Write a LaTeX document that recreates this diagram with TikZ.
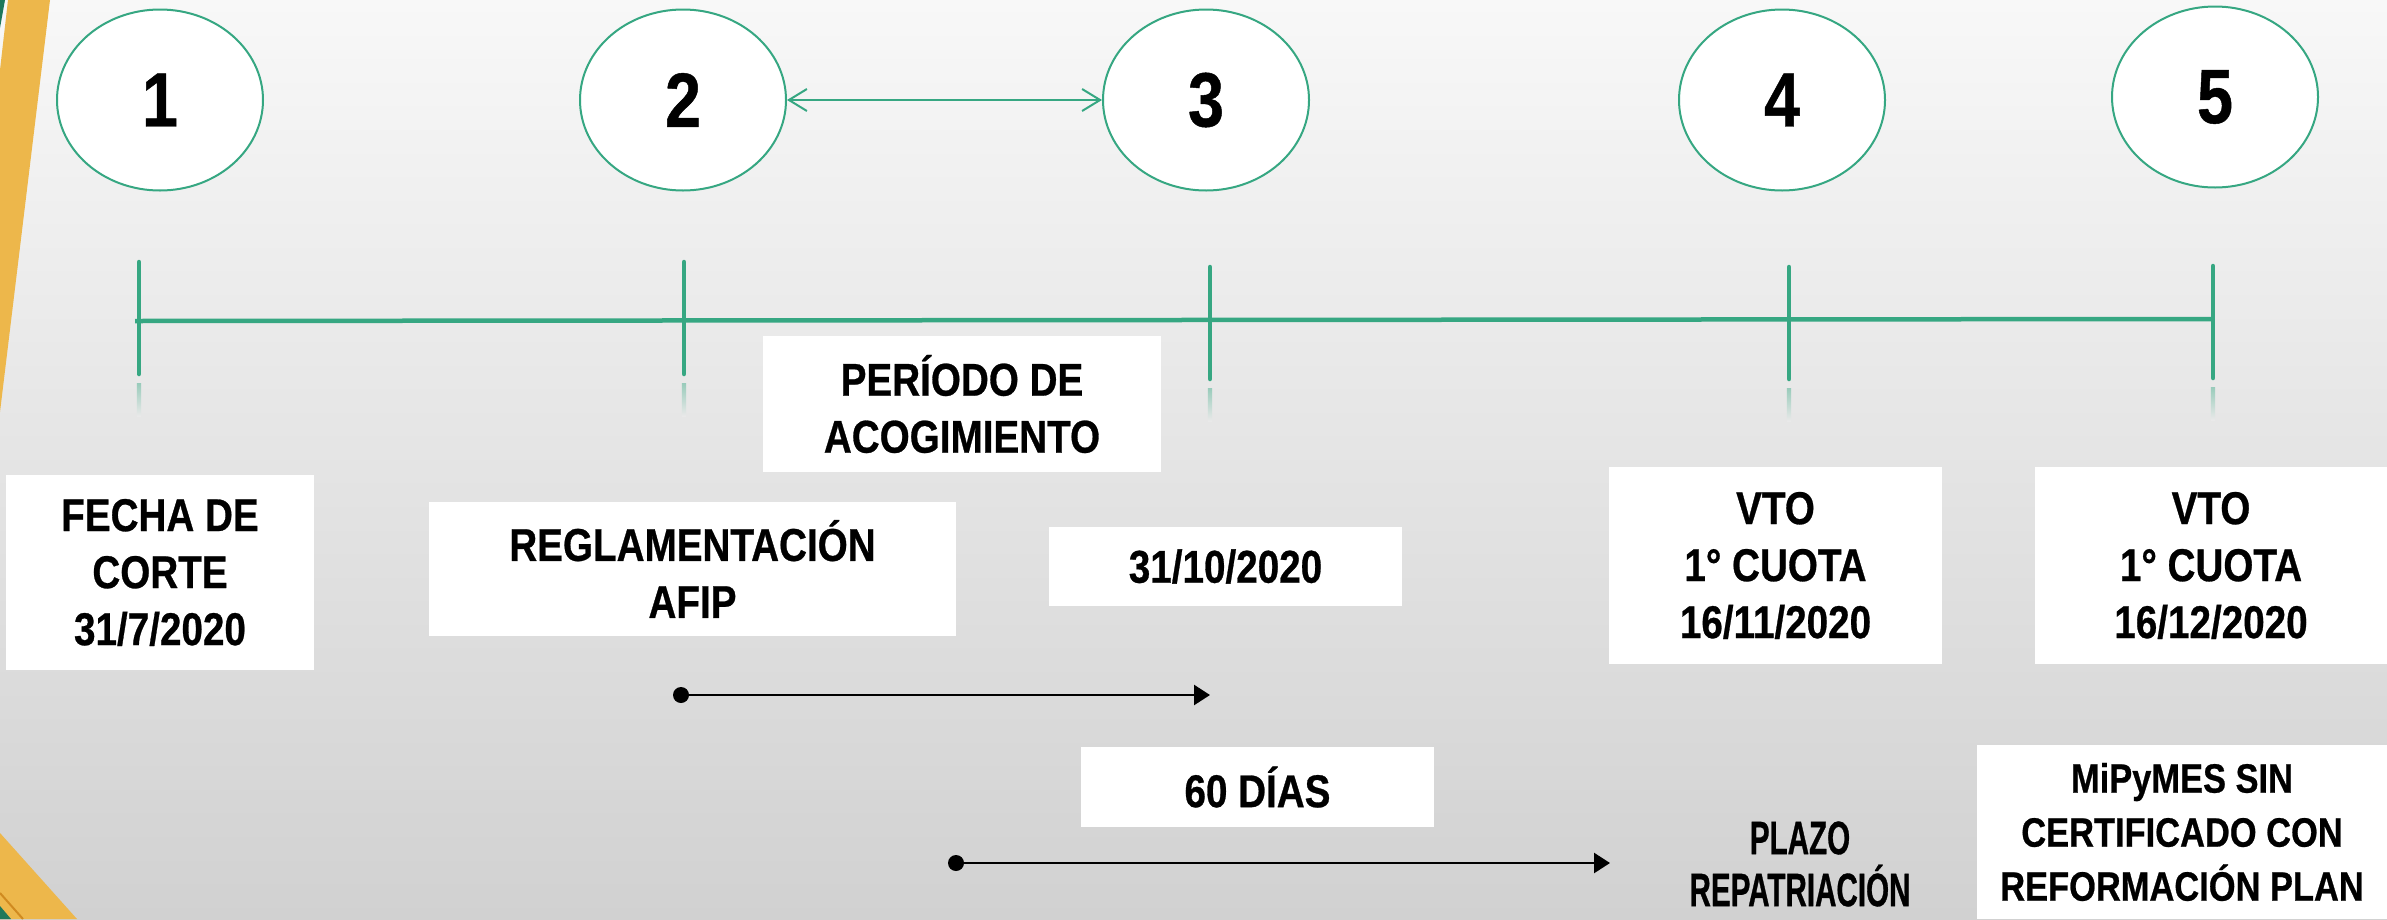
\documentclass[tikz,border=0pt]{standalone}
\usepackage{fontspec}
\setmainfont[FakeStretch=0.84,BoldFeatures={FakeBold=0.6}]{Liberation Sans}
\newfontfamily\narrowfont[FakeStretch=0.63,BoldFeatures={FakeBold=0.6}]{Liberation Sans}
\usetikzlibrary{shapes.geometric,arrows.meta}
\definecolor{bgTop}{RGB}{248,248,248}
\definecolor{bgBot}{RGB}{209,209,209}
\definecolor{bgMid}{RGB}{233,233,233}
\definecolor{tgreen}{RGB}{54,167,130}
\definecolor{gold}{RGB}{237,183,75}
\definecolor{dorange}{RGB}{208,138,32}
\definecolor{dgreen}{RGB}{30,120,90}
\tikzset{
  ell/.style={ellipse,draw=tgreen,line width=2pt,fill=white,minimum width=206pt,minimum height=181pt,inner sep=0pt,font=\fontsize{77}{80}\selectfont\bfseries},
  tickline/.style={tgreen,line width=4.5pt,line cap=round},
  tl/.style={tgreen,line width=4.5pt},
  wbox/.style={fill=white,inner sep=0pt,align=center,font=\fontsize{46}{57}\selectfont\bfseries},
  sbox/.style={fill=white,inner sep=0pt,align=center,font=\fontsize{41}{54}\selectfont\bfseries},
  pbox/.style={inner sep=0pt,align=center,font=\narrowfont\fontsize{47}{52}\selectfont\bfseries},
  garrow/.style={tgreen,line width=2pt,{Straight Barb[length=18pt,width=22pt]}-{Straight Barb[length=18pt,width=22pt]}},
  dotn/.style={circle,fill=black,inner sep=0pt,minimum size=16pt},
  barrow/.style={black,line width=2.5pt,-{Triangle[length=16pt,width=20pt]}},
}
\begin{document}
\begin{tikzpicture}[x=1pt,y=-1pt]
\useasboundingbox (0,0) rectangle (2387,919);
\shade[top color=bgTop,bottom color=bgBot] (0,0) rectangle (2387,919);
% left decorations
\fill[gold] (8,0) -- (50,0) -- (0,412) -- (0,70) -- cycle;
\fill[dgreen] (0,0) -- (5,0) -- (0,28) -- cycle;
\fill[gold] (0,833) -- (77,919) -- (0,919) -- cycle;
\draw[dorange,line width=2pt] (0,893) -- (23,919);
\fill[dgreen] (0,906) -- (11,919) -- (0,919) -- cycle;
% timeline
\draw[tl] (135,321) -- (2213,319);
\foreach \x/\a/\b in {139/262/374,684/262/374,1210/267/379,1789/267/379,2213/266/378}{
  \draw[tickline] (\x,\a) -- (\x,\b);
  \shade[top color=tgreen!45!bgMid,bottom color=bgMid] (\x-2.2,\b+9) rectangle (\x+2.2,\b+42);
}
% ellipses
\node[ell] (e1) at (160,100) {1};
\node[ell] (e2) at (683,100) {2};
\node[ell] (e3) at (1206,100) {3};
\node[ell] (e4) at (1782,100) {4};
\node[ell] (e5) at (2215,97) {5};
\draw[garrow] (e2.east) -- (e3.west);
% boxes
\node[wbox,minimum width=308pt,minimum height=195pt] (fecha) at (160,572.5) {FECHA DE\\CORTE\\31/7/2020};
\node[wbox,minimum width=527pt,minimum height=134pt] (regl) at (692.5,569) {REGLAMENTACIÓN\\AFIP};
\node[wbox,minimum width=398pt,minimum height=136pt] (peri) at (962,404) {PERÍODO DE\\ACOGIMIENTO};
\node[wbox,minimum width=353pt,minimum height=79pt] (d3110) at (1225.5,566.5) {31/10/2020};
\node[wbox,minimum width=333pt,minimum height=197pt] (vto4) at (1775.5,565.5) {VTO\\1° CUOTA\\16/11/2020};
\node[wbox,minimum width=352pt,minimum height=197pt] (vto5) at (2211,565.5) {VTO\\1° CUOTA\\16/12/2020};
\node[wbox,minimum width=353pt,minimum height=80pt] (dias) at (1257.5,787) {60 DÍAS};
\node[sbox,minimum width=410pt,minimum height=174pt] (mipy) at (2182,832) {MiPyMES SIN\\CERTIFICADO CON\\REFORMACIÓN PLAN};
\node[pbox] (plazo) at (1800,864) {PLAZO\\REPATRIACIÓN};
% black arrows
\node[dotn] (d1) at (681,695) {};
\coordinate (a1) at (1210,695);
\draw[barrow] (d1.center) -- (a1);
\node[dotn] (d2) at (956,863) {};
\coordinate (a2) at (1610,863);
\draw[barrow] (d2.center) -- (a2);
\end{tikzpicture}
\end{document}
